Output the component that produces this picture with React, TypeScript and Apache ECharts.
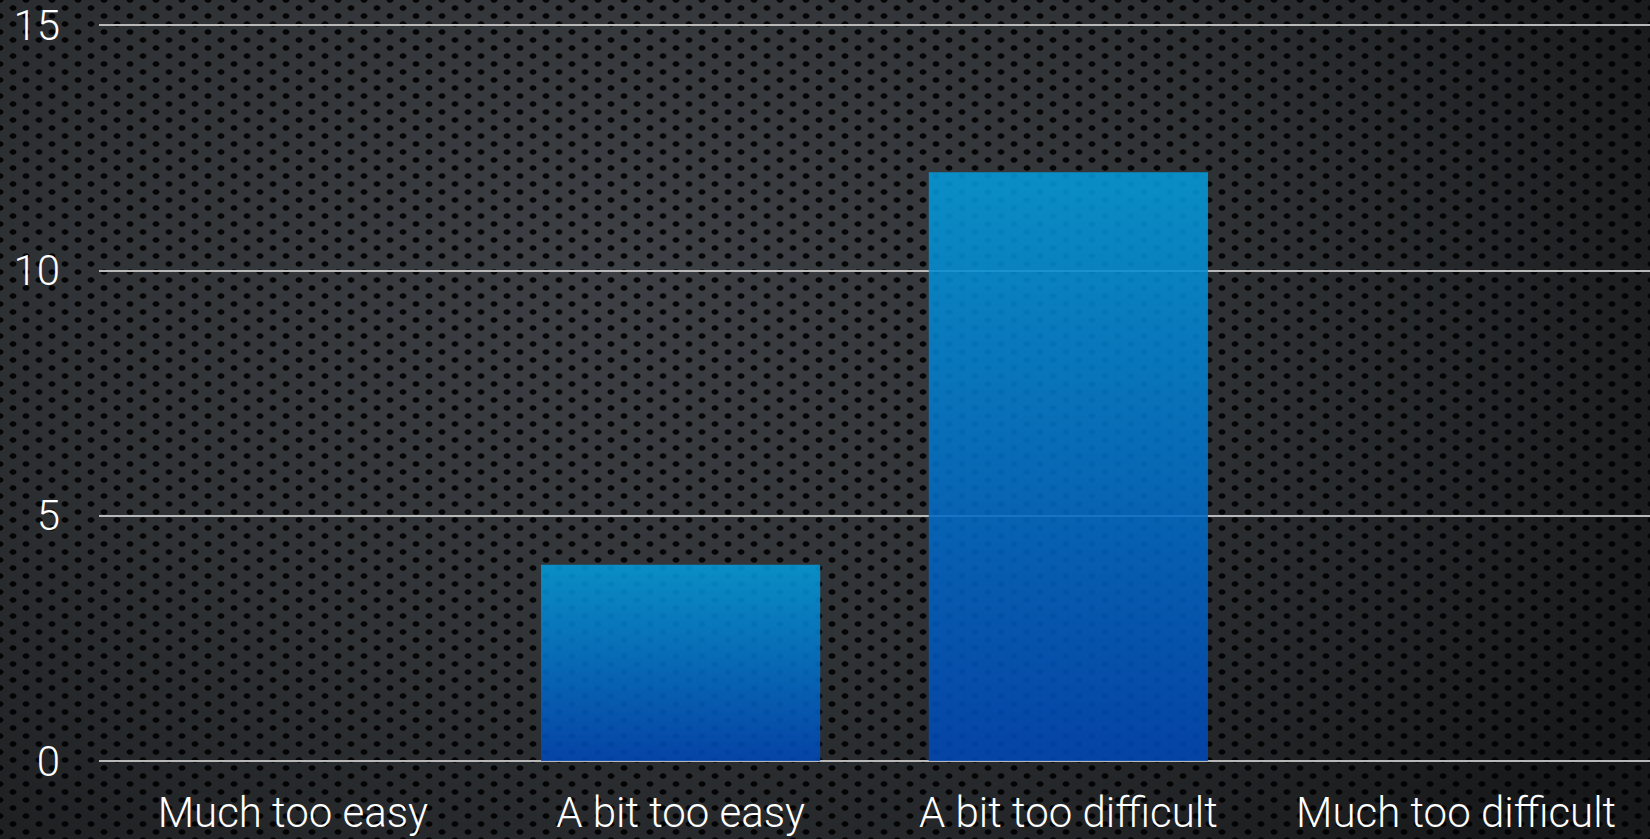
import React, { useEffect, useRef } from "react";
import * as echarts from "echarts";

const categories = ["Much too easy", "A bit too easy", "A bit too difficult", "Much too difficult"];
const counts = [0, 4, 12, 0];
const yMin = 0;
const yMax = 15;
const yStep = 5;

const bgStyle: React.CSSProperties = {
  position: "absolute",
  left: 0,
  top: 0,
  width: 1650,
  height: 839,
  backgroundColor: "#3c4044",
  backgroundImage: [
    "radial-gradient(ellipse 70% 100% at 38% 32%, rgba(0,0,0,0) 0%, rgba(0,0,0,0.22) 50%, rgba(0,0,0,0.62) 100%)",
    "radial-gradient(ellipse 4px 3.2px at center, rgba(0,0,0,0.92) 0%, rgba(0,0,0,0.92) 70%, rgba(0,0,0,0) 100%)",
    "radial-gradient(ellipse 4px 3.2px at center, rgba(0,0,0,0.92) 0%, rgba(0,0,0,0.92) 70%, rgba(0,0,0,0) 100%)",
  ].join(","),
  backgroundSize: "100% 100%, 26px 16px, 26px 16px",
  backgroundPosition: "0 0, 0 0, 13px 8px",
  backgroundRepeat: "no-repeat, repeat, repeat",
};

const labelFont = {
  color: "#ffffff",
  fontFamily: "Roboto",
  fontWeight: 300,
};

export default function App() {
  const ref = useRef<HTMLDivElement>(null);
  useEffect(() => {
    const chart = echarts.init(ref.current!, null, { renderer: "svg" });
    chart.setOption({
      animation: false,
      backgroundColor: "transparent",
      grid: { left: 99, right: 0, top: 25, bottom: 78, containLabel: false },
      xAxis: {
        type: "category",
        data: categories,
        axisLine: { show: false },
        axisTick: { show: false },
        axisLabel: {
          ...labelFont,
          fontSize: 42,
          lineHeight: 34,
          margin: 34,
          interval: 0,
        },
      },
      yAxis: {
        type: "value",
        min: yMin,
        max: yMax,
        interval: yStep,
        axisLine: { show: false },
        axisTick: { show: false },
        splitLine: { lineStyle: { color: "#b8b8b8", width: 2 } },
        axisLabel: {
          ...labelFont,
          fontSize: 42,
          margin: 39,
          padding: [6, 0, 0, 0],
        },
      },
      series: [
        {
          type: "bar",
          data: counts,
          barCategoryGap: "28%",
          itemStyle: {
            opacity: 0.88,
            color: new echarts.graphic.LinearGradient(0, 0, 0, 1, [
              { offset: 0, color: "#049ad8" },
              { offset: 1, color: "#0047b5" },
            ]),
          },
        },
      ],
    });
    return () => chart.dispose();
  }, []);
  return (
    <div style={bgStyle}>
      <div ref={ref} style={{ width: 1650, height: 839 }} />
    </div>
  );
}
